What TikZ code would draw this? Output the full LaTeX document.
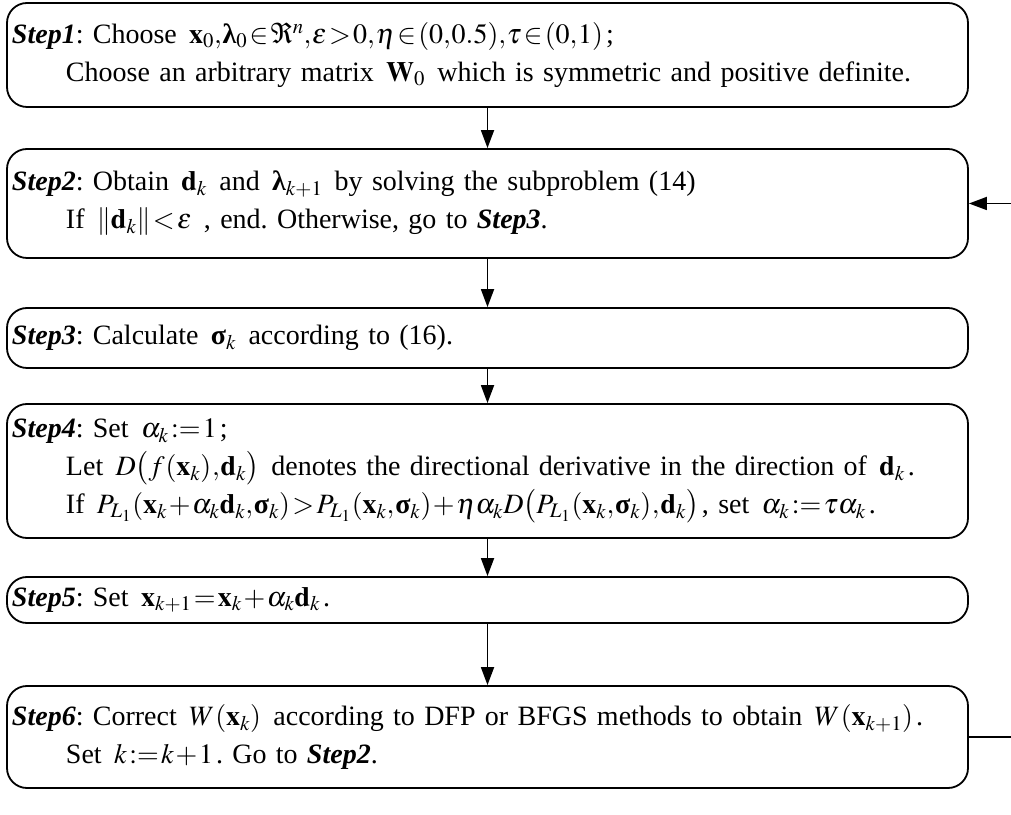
\documentclass[tikz,border=0pt]{standalone}
\usepackage{amsmath}
\usepackage{mathptmx}
\usepackage{fontspec}
\setmainfont{Liberation Serif}
\usetikzlibrary{arrows.meta}
\newcommand{\stp}[1]{\textbf{\textit{Step#1}}}
\newcommand{\bx}{\mathbf{x}}
\newcommand{\bd}{\mathbf{d}}
\newcommand{\bW}{\mathbf{W}}
\newcommand{\blam}{\text{\normalfont\bfseries λ}}
\newcommand{\bsig}{\text{\normalfont\bfseries σ}}
\newcommand{\ind}{\hspace*{54pt}}
\newcommand{\mth}[1]{\hspace{3pt}$#1$\hspace{3pt}}
\medmuskip=1mu plus 1mu minus 1mu
\thickmuskip=1.5mu plus 1mu
\thinmuskip=0.5mu
\nulldelimiterspace=0pt
\frenchspacing
\begin{document}
\begin{tikzpicture}[x=1pt,y=1pt,
  stepbox/.style={draw, line width=1.8pt, rounded corners=20pt, minimum width=961pt,
    text width=951pt, inner xsep=5pt, inner ysep=0pt, align=left,
    font=\fontsize{28}{38}\selectfont\frenchspacing},
  flow/.style={line width=1.8pt, -{Triangle[length=18pt,width=13pt]}}]
\clip (0,0) rectangle (1011,814);
\fill[white] (0,0) rectangle (1011,814);
\node[stepbox, minimum height=104pt] (b1) at (487.5,759)
  {\stp{1}: Choose \mth{\bx_0,\blam_0\in\Re^n,\varepsilon>0,\eta\in(0,0.5),\tau\in(0,1)};\\
   \ind Choose an arbitrary matrix \mth{\bW_0} which is symmetric and positive definite.};
\node[stepbox, minimum height=109pt] (b2) at (487.5,610.5)
  {\stp{2}: Obtain \mth{\bd_k} and \mth{\blam_{k+1}} by solving the subproblem (14)\\
   \ind If \mth{\left\|\bd_k\right\|<\varepsilon} , end. Otherwise, go to \stp{3}.};
\node[stepbox, minimum height=60pt] (b3) at (487.5,476)
  {\stp{3}: Calculate \mth{\bsig_k} according to (16).};
\node[stepbox, minimum height=134pt] (b4) at (487.5,343)
  {\stp{4}: Set \mth{\alpha_k:=1};\\
   \ind Let \mth{D\bigl(f\left(\bx_k\right),\bd_k\bigr)} denotes the directional derivative in the direction of \mth{\bd_k}.\\
   \ind If \mth{P_{L_1}\left(\bx_k+\alpha_k\bd_k,\bsig_k\right)>P_{L_1}\left(\bx_k,\bsig_k\right)+\eta\alpha_k D\bigl(P_{L_1}\left(\bx_k,\bsig_k\right),\bd_k\bigr)}, set \mth{\alpha_k:=\tau\alpha_k}.};
\node[stepbox, minimum height=46pt] (b5) at (487.5,214)
  {\stp{5}: Set \mth{\bx_{k+1}=\bx_k+\alpha_k\bd_k}.};
\node[stepbox, minimum height=102pt] (b6) at (487.5,77)
  {\stp{6}: Correct \mth{W\left(\bx_k\right)} according to DFP or BFGS methods to obtain \mth{W\left(\bx_{k+1}\right)}.\\
   \ind Set \mth{k:=k+1}. Go to \stp{2}.};
\draw[flow] (b1.south) -- (b2.north);
\draw[flow] (b2.south) -- (b3.north);
\draw[flow] (b3.south) -- (b4.north);
\draw[flow] (b4.south) -- (b5.north);
\draw[flow] (b5.south) -- (b6.north);
\draw[flow] (b6.east) -- ++(60,0) |- (b2.east);
\end{tikzpicture}
\end{document}
